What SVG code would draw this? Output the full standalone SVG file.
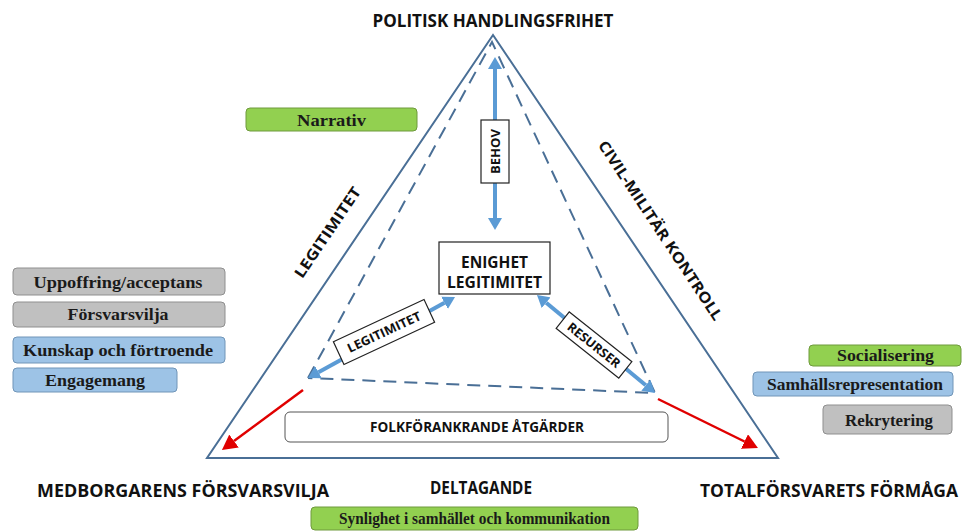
<svg xmlns="http://www.w3.org/2000/svg" width="963" height="531" viewBox="0 0 963 531">
<style>
.lbl{font-family:"Open Sans","Liberation Sans",sans-serif;font-weight:bold;fill:#111;}
.bx{font-family:"Liberation Serif",serif;font-weight:bold;font-size:16.5px;fill:#1a1a1a;}
.green{fill:#92d050;stroke:#6f9a3c;stroke-width:1;}
.grey{fill:#c0c0c0;stroke:#8f8f8f;stroke-width:1;}
.blue{fill:#9dc3e6;stroke:#7095b8;stroke-width:1;}
.outer{fill:none;stroke:#4a6f96;stroke-width:2;}
.dash{fill:none;stroke:#4a6f96;stroke-width:2;stroke-dasharray:13 8;}
.barrow{stroke:#5b9bd5;stroke-width:4;fill:none;}
.rarrow{stroke:#e00000;stroke-width:2.5;fill:none;}
.wbox{fill:#fff;stroke:#222;stroke-width:1.2;}
</style>
<defs>
<marker id="bh" markerUnits="userSpaceOnUse" markerWidth="12" markerHeight="14" refX="0" refY="7" orient="auto-start-reverse" viewBox="0 0 12 14">
<path d="M0,0 L12,7 L0,14 z" fill="#5b9bd5"/>
</marker>
<marker id="rh" markerUnits="userSpaceOnUse" markerWidth="15" markerHeight="16" refX="0" refY="8" orient="auto" viewBox="0 0 15 16">
<path d="M0,0 L15,8 L0,16 z" fill="#e00000"/>
</marker>
</defs>
<rect width="963" height="531" fill="#fff"/>

<g id="triangle">
<polygon class="outer" points="493,35 207,458 778,458"/>
<polyline class="dash" points="308,378 492,42 655,393 308,378"/>
</g>

<g id="connectors">
<line class="barrow" x1="495" y1="69" x2="495" y2="218" marker-start="url(#bh)" marker-end="url(#bh)"/>
<line class="barrow" x1="318.5" y1="372.2" x2="444.5" y2="302.8" marker-start="url(#bh)" marker-end="url(#bh)"/>
<line class="barrow" x1="546.2" y1="302.7" x2="645.8" y2="385.3" marker-start="url(#bh)" marker-end="url(#bh)"/>
<line class="rarrow" x1="303" y1="390" x2="234" y2="441" marker-end="url(#rh)"/>
<line class="rarrow" x1="658" y1="399" x2="744.5" y2="441.5" marker-end="url(#rh)"/>
</g>

<g id="behov">
<rect class="wbox" x="481" y="120" width="28" height="63"/>
<text class="lbl" font-size="13" transform="translate(495,151.5) rotate(-90)" text-anchor="middle" dominant-baseline="central" textLength="45" lengthAdjust="spacingAndGlyphs">BEHOV</text>
</g>

<g id="legitimitet-label">
<g transform="translate(384,332) rotate(-25)">
<rect class="wbox" x="-50" y="-12.5" width="100" height="25"/>
<text class="lbl" font-size="12.5" x="0" y="0" text-anchor="middle" dominant-baseline="central" textLength="80" lengthAdjust="spacingAndGlyphs">LEGITIMITET</text>
</g>
</g>

<g id="resurser-label">
<g transform="translate(594,345) rotate(38.5)">
<rect class="wbox" x="-40" y="-10.5" width="80" height="21"/>
<text class="lbl" font-size="12.5" x="0" y="0" text-anchor="middle" dominant-baseline="central" textLength="64" lengthAdjust="spacingAndGlyphs">RESURSER</text>
</g>
</g>

<g id="enighet">
<rect class="wbox" x="439" y="242" width="111" height="52"/>
<text class="lbl" font-size="15.5" x="494.5" y="262" text-anchor="middle" dominant-baseline="central" textLength="67" lengthAdjust="spacingAndGlyphs">ENIGHET</text>
<text class="lbl" font-size="15.5" x="494.5" y="282" text-anchor="middle" dominant-baseline="central" textLength="95" lengthAdjust="spacingAndGlyphs">LEGITIMITET</text>
</g>

<g id="folkforankrande">
<rect x="285" y="412" width="383" height="30" rx="5" fill="#fff" stroke="#555" stroke-width="1"/>
<text class="lbl" font-size="13.5" x="477" y="427" text-anchor="middle" dominant-baseline="central" textLength="214" lengthAdjust="spacingAndGlyphs">FOLKFÖRANKRANDE ÅTGÄRDER</text>
</g>

<g id="top-label">
<text class="lbl" font-size="17" x="493" y="20" text-anchor="middle" dominant-baseline="central" textLength="241" lengthAdjust="spacingAndGlyphs">POLITISK HANDLINGSFRIHET</text>
</g>
<g id="left-side-label">
<text class="lbl" font-size="15" transform="translate(327,232) rotate(-56)" text-anchor="middle" dominant-baseline="central" textLength="106" lengthAdjust="spacingAndGlyphs">LEGITIMITET</text>
</g>
<g id="right-side-label">
<text class="lbl" font-size="15" transform="translate(661,230) rotate(56.5)" text-anchor="middle" dominant-baseline="central" textLength="212" lengthAdjust="spacingAndGlyphs">CIVIL-MILITÄR KONTROLL</text>
</g>
<g id="bottom-left-label">
<text class="lbl" font-size="17" x="183" y="490" text-anchor="middle" dominant-baseline="central" textLength="292" lengthAdjust="spacingAndGlyphs">MEDBORGARENS FÖRSVARSVILJA</text>
</g>
<g id="deltagande">
<text class="lbl" font-size="17" x="481" y="487" text-anchor="middle" dominant-baseline="central" textLength="102" lengthAdjust="spacingAndGlyphs">DELTAGANDE</text>
</g>
<g id="bottom-right-label">
<text class="lbl" font-size="17" x="829" y="490" text-anchor="middle" dominant-baseline="central" textLength="258" lengthAdjust="spacingAndGlyphs">TOTALFÖRSVARETS FÖRMÅGA</text>
</g>

<g id="narrativ">
<rect class="green" x="246" y="108" width="171" height="23" rx="4"/>
<text class="bx" x="331.5" y="120" text-anchor="middle" dominant-baseline="central" textLength="69" lengthAdjust="spacingAndGlyphs">Narrativ</text>
</g>
<g id="uppoffring">
<rect class="grey" x="13" y="268" width="212" height="27" rx="4"/>
<text class="bx" x="118" y="282" text-anchor="middle" dominant-baseline="central" textLength="169" lengthAdjust="spacingAndGlyphs">Uppoffring/acceptans</text>
</g>
<g id="forsvarsvilja">
<rect class="grey" x="13" y="302" width="212" height="25" rx="4"/>
<text class="bx" x="118" y="314.5" text-anchor="middle" dominant-baseline="central" textLength="101" lengthAdjust="spacingAndGlyphs">Försvarsvilja</text>
</g>
<g id="kunskap">
<rect class="blue" x="13" y="337" width="212" height="26" rx="4"/>
<text class="bx" x="118" y="350" text-anchor="middle" dominant-baseline="central" textLength="190" lengthAdjust="spacingAndGlyphs">Kunskap och förtroende</text>
</g>
<g id="engagemang">
<rect class="blue" x="13" y="368" width="164" height="24" rx="4"/>
<text class="bx" x="95" y="380" text-anchor="middle" dominant-baseline="central" textLength="100" lengthAdjust="spacingAndGlyphs">Engagemang</text>
</g>
<g id="socialisering">
<rect class="green" x="809" y="345" width="152" height="21" rx="4"/>
<text class="bx" x="885.5" y="355.5" text-anchor="middle" dominant-baseline="central" textLength="97" lengthAdjust="spacingAndGlyphs">Socialisering</text>
</g>
<g id="samhallsrepresentation">
<rect class="blue" x="753" y="372" width="200" height="24" rx="4"/>
<text class="bx" x="855" y="384" text-anchor="middle" dominant-baseline="central" textLength="176" lengthAdjust="spacingAndGlyphs">Samhällsrepresentation</text>
</g>
<g id="rekrytering">
<rect class="grey" x="823" y="405" width="129" height="29" rx="4"/>
<text class="bx" x="889" y="420" text-anchor="middle" dominant-baseline="central" textLength="88" lengthAdjust="spacingAndGlyphs">Rekrytering</text>
</g>
<g id="synlighet">
<rect class="green" x="311" y="507" width="327" height="23" rx="4"/>
<text class="bx" x="474.5" y="518.5" text-anchor="middle" dominant-baseline="central" textLength="271" lengthAdjust="spacingAndGlyphs">Synlighet i samhället och kommunikation</text>
</g>
</svg>
